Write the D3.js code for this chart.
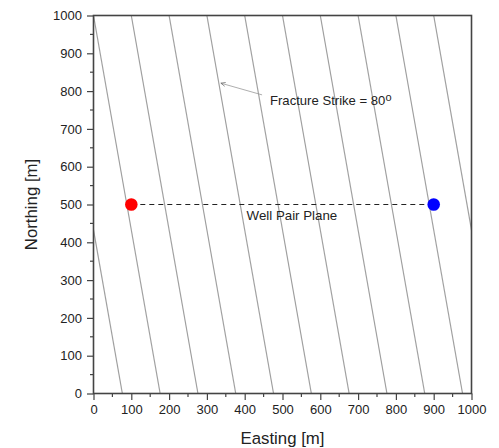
<!DOCTYPE html>
<html>
<head>
<meta charset="utf-8">
<script src="https://cdn.jsdelivr.net/npm/d3@7"></script>
<style>
  html, body { margin: 0; padding: 0; background: #fff; }
  svg { display: block; font-family: "Liberation Sans", Arial, Helvetica, sans-serif; }
</style>
</head>
<body>
<svg id="chart" width="499" height="448"></svg>
<script>
// Fracture set: strike angle (degrees from east) and where each trace meets the north edge
const strikeDeg = 80;
const fractureOffsets = [-100, 0, 100, 200, 300, 400, 500, 600, 700, 800, 900];

// Wells (easting, northing)
const wellNames = ["Injector", "Producer"];
const wellEasting = [100, 900];
const wellNorthing = [500, 500];
const wellColors = ["#ff0000", "#0000ff"];

// Axis ticks
const xTicks = [0, 100, 200, 300, 400, 500, 600, 700, 800, 900, 1000];
const yTicks = [0, 100, 200, 300, 400, 500, 600, 700, 800, 900, 1000];
const minorTicks = d3.range(50, 1000, 100);

// Annotations (data coordinates)
const strikeLabelPos = [467, 763];
const strikeArrowTail = [446, 790];
const strikeArrowTip = [337, 821];
const planeLabelPos = [405, 459];

const svg = d3.select("#chart");
const margin = { left: 93.5, right: 27.5, top: 15.5, bottom: 54.5 };
const W = 499, H = 448;

const x = d3.scaleLinear().domain([0, 1000]).range([margin.left, W - margin.right]);
const y = d3.scaleLinear().domain([0, 1000]).range([H - margin.bottom, margin.top]);

const defs = svg.append("defs");
defs.append("clipPath").attr("id", "plotClip")
  .append("rect")
  .attr("x", x(0)).attr("y", y(1000))
  .attr("width", x(1000) - x(0)).attr("height", y(0) - y(1000));

// Fracture traces: each runs from the north edge southward, drifting east by cot(strike)
const drift = 1000 / Math.tan(strikeDeg * Math.PI / 180);
svg.append("g").attr("clip-path", "url(#plotClip)")
  .selectAll("line").data(fractureOffsets).join("line")
  .attr("x1", d => x(d)).attr("y1", y(1000))
  .attr("x2", d => x(d + drift)).attr("y2", y(0))
  .attr("stroke", "#a0a0a0").attr("stroke-width", 1.2);

// Well pair plane (dashed)
svg.append("line")
  .attr("x1", x(wellEasting[0])).attr("y1", y(wellNorthing[0]))
  .attr("x2", x(wellEasting[1])).attr("y2", y(wellNorthing[1]))
  .attr("stroke", "#222").attr("stroke-width", 1.1)
  .attr("stroke-dasharray", "5,4");

svg.append("g").selectAll("circle").data(wellNames).join("circle")
  .attr("cx", (d, i) => x(wellEasting[i]))
  .attr("cy", (d, i) => y(wellNorthing[i]))
  .attr("r", 6.3)
  .attr("fill", (d, i) => wellColors[i]);

svg.append("text")
  .attr("x", x(planeLabelPos[0])).attr("y", y(planeLabelPos[1]))
  .attr("font-size", 13.3).attr("fill", "#222")
  .text("Well Pair Plane");

// Strike annotation with arrow
defs.append("marker")
  .attr("id", "arrowHead").attr("viewBox", "0 0 10 10")
  .attr("refX", 9).attr("refY", 5)
  .attr("markerWidth", 7).attr("markerHeight", 7)
  .attr("orient", "auto")
  .append("path").attr("d", "M1,1.5 L9,5 L1,8.5")
  .attr("fill", "none").attr("stroke", "#666").attr("stroke-width", 1.2);

svg.append("line")
  .attr("x1", x(strikeArrowTail[0])).attr("y1", y(strikeArrowTail[1]))
  .attr("x2", x(strikeArrowTip[0])).attr("y2", y(strikeArrowTip[1]))
  .attr("stroke", "#999").attr("stroke-width", 0.8)
  .attr("marker-end", "url(#arrowHead)");

const strikeText = svg.append("text")
  .attr("x", x(strikeLabelPos[0])).attr("y", y(strikeLabelPos[1]))
  .attr("font-size", 13.1).attr("fill", "#222");
strikeText.append("tspan").text("Fracture Strike = " + strikeDeg);
strikeText.append("tspan").attr("dy", -4).attr("font-size", 11).text("o");

// Axes
const axisColor = "#444";
const xAxis = svg.append("g").attr("transform", `translate(0,${y(0)})`)
  .call(d3.axisBottom(x).tickValues(xTicks).tickSize(6.5).tickPadding(5).tickFormat(d3.format("d")));
const yAxis = svg.append("g").attr("transform", `translate(${x(0)},0)`)
  .call(d3.axisLeft(y).tickValues(yTicks).tickSize(6.5).tickPadding(5).tickFormat(d3.format("d")));

[xAxis, yAxis].forEach(g => {
  g.select(".domain").remove();
  g.selectAll(".tick line").attr("stroke", axisColor).attr("stroke-width", 1.2);
  g.selectAll(".tick text").attr("font-size", 13).attr("fill", "#222")
    .attr("font-family", "'Liberation Sans', Arial, sans-serif");
});

svg.append("g").selectAll("line").data(minorTicks).join("line")
  .attr("x1", d => x(d)).attr("x2", d => x(d))
  .attr("y1", y(0)).attr("y2", y(0) + 3.5)
  .attr("stroke", axisColor).attr("stroke-width", 1.2);
svg.append("g").selectAll("line").data(minorTicks).join("line")
  .attr("y1", d => y(d)).attr("y2", d => y(d))
  .attr("x1", x(0)).attr("x2", x(0) - 3.5)
  .attr("stroke", axisColor).attr("stroke-width", 1.2);

// Plot frame
svg.append("rect")
  .attr("x", x(0)).attr("y", y(1000))
  .attr("width", x(1000) - x(0)).attr("height", y(0) - y(1000))
  .attr("fill", "none").attr("stroke", axisColor).attr("stroke-width", 1.6);

// Axis titles
svg.append("text")
  .attr("x", (x(0) + x(1000)) / 2).attr("y", 444)
  .attr("text-anchor", "middle").attr("font-size", 16.8).attr("fill", "#222")
  .text("Easting [m]");
svg.append("text")
  .attr("transform", `translate(37,${(y(0) + y(1000)) / 2}) rotate(-90)`)
  .attr("text-anchor", "middle").attr("font-size", 16.8).attr("fill", "#222")
  .text("Northing [m]");
</script>
</body>
</html>
